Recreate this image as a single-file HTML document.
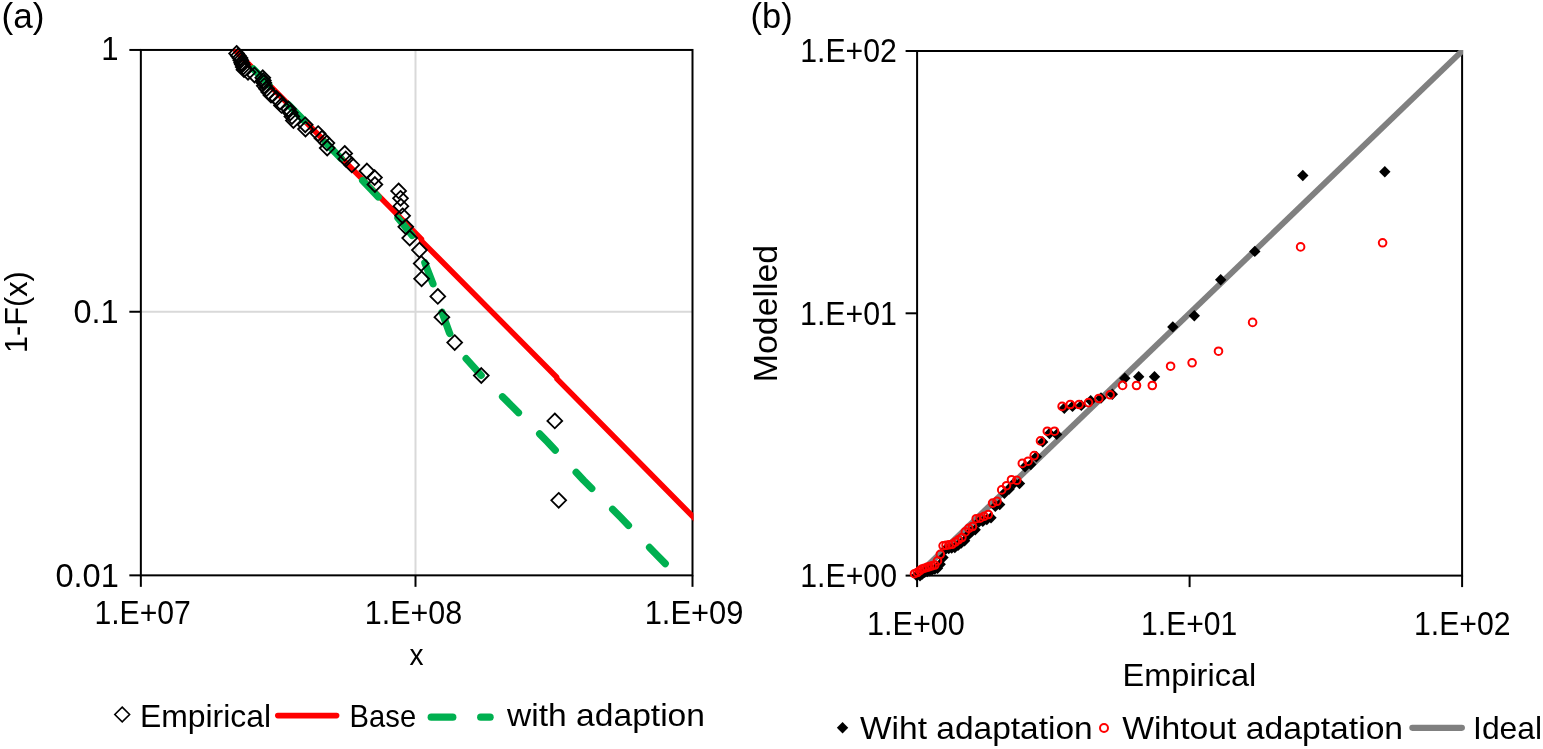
<!DOCTYPE html>
<html lang="en"><head><meta charset="utf-8"><title>Figure</title>
<style>html,body{margin:0;padding:0;background:#fff}body{width:1543px;height:749px;overflow:hidden}svg{display:block}text{font-family:"Liberation Sans",sans-serif;fill:#000}</style>
</head><body>
<svg width="1543" height="749" viewBox="0 0 1543 749">
<rect width="1543" height="749" fill="#fff"/>
<g stroke="#d9d9d9" stroke-width="2" fill="none">
<line x1="415.5" y1="49.95" x2="415.5" y2="575.35"/><line x1="140.85" y1="311.75" x2="692.5" y2="311.75"/></g>
<g stroke="#000" stroke-width="2.0" fill="none" stroke-linecap="butt">
<rect x="140.85" y="49.95" width="551.65" height="525.4"/>
<line x1="129.35" y1="49.95" x2="140.85" y2="49.95"/>
<line x1="129.35" y1="311.75" x2="140.85" y2="311.75"/>
<line x1="129.35" y1="575.35" x2="140.85" y2="575.35"/>
<line x1="140.85" y1="575.35" x2="140.85" y2="586.85"/>
<line x1="415.5" y1="575.35" x2="415.5" y2="586.85"/>
<line x1="692.5" y1="575.35" x2="692.5" y2="586.85"/>
</g>
<clipPath id="ca"><rect x="139.85" y="48.95" width="553.65" height="527.4"/></clipPath>
<g clip-path="url(#ca)">
<polyline points="236.0,51.3 421.5,239.1 421.7,241.1 556.7,377.2 557,378.9 695.5,519.3" fill="none" stroke="#ff0000" stroke-width="5.6" stroke-linejoin="round" stroke-linecap="round"/>
<g fill="none" stroke="#00b050" stroke-width="7.2" stroke-linecap="round" stroke-linejoin="round">
<polyline points="253.1,68.7 269.0,84.9"/>
<polyline points="288.3,104.6 300.0,116.5 304.2,120.7"/>
<polyline points="325.3,142.2 341.1,158.4"/>
<polyline points="362.6,180.5 370.5,188.7 378.3,196.9"/>
<polyline points="397.9,218.0 405.0,226.5 412.2,235.5"/>
<polyline points="424.8,262.8 433.0,283.8"/>
<polyline points="442.0,312.3 449.5,333.0 449.8,333.5"/>
<polyline points="466.1,358.6 481.2,375.4"/>
<polyline points="502.5,396.7 510.5,404.7 518.5,412.7"/>
<polyline points="539.6,433.9 547.6,442.0 555.3,450.2"/>
<polyline points="576.1,472.3 583.8,480.5 591.8,488.5"/>
<polyline points="612.6,509.3 620.6,517.3 628.5,525.5"/>
<polyline points="649.5,547.4 657.3,555.5 665.3,563.6"/>
</g>
</g>
<g fill="none" stroke="#000" stroke-width="1.8" stroke-linejoin="miter">
<path d="M236.6,46.0L244.0,53.4L236.6,60.8L229.2,53.4Z"/>
<path d="M238.3,48.3L245.7,55.7L238.3,63.1L230.9,55.7Z"/>
<path d="M240.0,50.6L247.4,58.0L240.0,65.4L232.6,58.0Z"/>
<path d="M240.8,52.9L248.2,60.3L240.8,67.7L233.4,60.3Z"/>
<path d="M241.6,55.3L249.0,62.7L241.6,70.1L234.2,62.7Z"/>
<path d="M242.4,57.2L249.8,64.6L242.4,72.0L235.0,64.6Z"/>
<path d="M243.2,59.7L250.6,67.1L243.2,74.5L235.8,67.1Z"/>
<path d="M244.0,62.3L251.4,69.7L244.0,77.1L236.6,69.7Z"/>
<path d="M248.0,64.9L255.4,72.3L248.0,79.7L240.6,72.3Z"/>
<path d="M254.5,67.6L261.9,75.0L254.5,82.4L247.1,75.0Z"/>
<path d="M262.8,70.3L270.2,77.7L262.8,85.1L255.4,77.7Z"/>
<path d="M263.3,73.1L270.7,80.5L263.3,87.9L255.9,80.5Z"/>
<path d="M263.8,75.4L271.2,82.8L263.8,90.2L256.4,82.8Z"/>
<path d="M264.3,78.4L271.7,85.8L264.3,93.2L256.9,85.8Z"/>
<path d="M266.5,81.4L273.9,88.8L266.5,96.2L259.1,88.8Z"/>
<path d="M268.7,84.6L276.1,92.0L268.7,99.4L261.3,92.0Z"/>
<path d="M271.0,87.8L278.4,95.2L271.0,102.6L263.6,95.2Z"/>
<path d="M276.5,91.1L283.9,98.5L276.5,105.9L269.1,98.5Z"/>
<path d="M280.0,94.5L287.4,101.9L280.0,109.3L272.6,101.9Z"/>
<path d="M281.5,98.0L288.9,105.4L281.5,112.8L274.1,105.4Z"/>
<path d="M288.5,101.6L295.9,109.0L288.5,116.4L281.1,109.0Z"/>
<path d="M290.3,105.4L297.7,112.8L290.3,120.2L282.9,112.8Z"/>
<path d="M291.9,109.2L299.3,116.6L291.9,124.0L284.5,116.6Z"/>
<path d="M293.4,113.2L300.8,120.6L293.4,128.0L286.0,120.6Z"/>
<path d="M305.2,117.4L312.6,124.8L305.2,132.2L297.8,124.8Z"/>
<path d="M305.5,121.7L312.9,129.1L305.5,136.5L298.1,129.1Z"/>
<path d="M318.1,126.2L325.5,133.6L318.1,141.0L310.7,133.6Z"/>
<path d="M322.0,130.8L329.4,138.2L322.0,145.6L314.6,138.2Z"/>
<path d="M326.9,135.7L334.3,143.1L326.9,150.5L319.5,143.1Z"/>
<path d="M327.2,140.7L334.6,148.1L327.2,155.5L319.8,148.1Z"/>
<path d="M344.7,146.0L352.1,153.4L344.7,160.8L337.3,153.4Z"/>
<path d="M345.8,151.6L353.2,159.0L345.8,166.4L338.4,159.0Z"/>
<path d="M351.8,157.5L359.2,164.9L351.8,172.3L344.4,164.9Z"/>
<path d="M366.9,163.6L374.3,171.0L366.9,178.4L359.5,171.0Z"/>
<path d="M374.5,170.2L381.9,177.6L374.5,185.0L367.1,177.6Z"/>
<path d="M374.9,177.1L382.3,184.5L374.9,191.9L367.5,184.5Z"/>
<path d="M398.6,183.5L406.0,190.9L398.6,198.3L391.2,190.9Z"/>
<path d="M400.5,190.9L407.9,198.3L400.5,205.7L393.1,198.3Z"/>
<path d="M400.9,198.8L408.3,206.2L400.9,213.6L393.5,206.2Z"/>
<path d="M402.6,208.4L410.0,215.8L402.6,223.2L395.2,215.8Z"/>
<path d="M405.8,219.4L413.2,226.8L405.8,234.2L398.4,226.8Z"/>
<path d="M409.7,230.7L417.1,238.1L409.7,245.5L402.3,238.1Z"/>
<path d="M419.4,242.7L426.8,250.1L419.4,257.5L412.0,250.1Z"/>
<path d="M421.2,256.2L428.6,263.6L421.2,271.0L413.8,263.6Z"/>
<path d="M421.6,271.4L429.0,278.8L421.6,286.2L414.2,278.8Z"/>
<path d="M437.8,289.0L445.2,296.4L437.8,303.8L430.4,296.4Z"/>
<path d="M441.9,309.8L449.3,317.2L441.9,324.6L434.5,317.2Z"/>
<path d="M454.7,335.2L462.1,342.6L454.7,350.0L447.3,342.6Z"/>
<path d="M481.3,368.1L488.7,375.5L481.3,382.9L473.9,375.5Z"/>
<path d="M554.8,413.5L562.2,420.9L554.8,428.3L547.4,420.9Z"/>
<path d="M558.7,492.9L566.1,500.3L558.7,507.7L551.3,500.3Z"/>
</g>
<text x="1.52" y="28.40" font-size="35.3" textLength="42.96" lengthAdjust="spacingAndGlyphs">(a)</text>
<text x="101.33" y="60.20" font-size="32.5" textLength="17.28" lengthAdjust="spacingAndGlyphs">1</text>
<text x="73.53" y="322.90" font-size="32.5" textLength="45.15" lengthAdjust="spacingAndGlyphs">0.1</text>
<text x="55.43" y="587.40" font-size="32.5" textLength="63.36" lengthAdjust="spacingAndGlyphs">0.01</text>
<text x="94.40" y="624.10" font-size="32.5" textLength="96.41" lengthAdjust="spacingAndGlyphs">1.E+07</text>
<text x="364.78" y="624.10" font-size="32.5" textLength="97.34" lengthAdjust="spacingAndGlyphs">1.E+08</text>
<text x="644.65" y="624.10" font-size="32.5" textLength="98.71" lengthAdjust="spacingAndGlyphs">1.E+09</text>
<text x="409.49" y="664.80" font-size="29.5" textLength="14.02" lengthAdjust="spacingAndGlyphs">x</text>
<text transform="translate(27.30,353.04) rotate(-90)" font-size="32" textLength="81.84" lengthAdjust="spacingAndGlyphs">1-F(x)</text>
<path d="M122.2,707.1L129.6,714.5L122.2,721.9L114.8,714.5Z" fill="none" stroke="#000" stroke-width="1.6"/>
<text x="139.88" y="727.00" font-size="32" textLength="131.25" lengthAdjust="spacingAndGlyphs">Empirical</text>
<line x1="277.8" y1="715.6" x2="336.6" y2="715.6" stroke="#ff0000" stroke-width="5.6" stroke-linecap="round"/>
<text x="349.61" y="727.00" font-size="32" textLength="66.49" lengthAdjust="spacingAndGlyphs">Base</text>
<g stroke="#00b050" stroke-width="7.2" stroke-linecap="round"><line x1="431.2" y1="717.2" x2="452.8" y2="717.2"/><line x1="480.7" y1="717.2" x2="490.1" y2="717.2"/></g>
<text x="507.05" y="725.90" font-size="32" textLength="197.93" lengthAdjust="spacingAndGlyphs">with adaption</text>
<g stroke="#000" stroke-width="2.0" fill="none">
<rect x="917.1" y="51.0" width="544.9999999999999" height="524.6"/>
<line x1="905.6" y1="51.0" x2="917.1" y2="51.0"/>
<line x1="905.6" y1="313.3" x2="917.1" y2="313.3"/>
<line x1="905.6" y1="575.6" x2="917.1" y2="575.6"/>
<line x1="917.1" y1="575.6" x2="917.1" y2="587.1"/>
<line x1="1189.6" y1="575.6" x2="1189.6" y2="587.1"/>
<line x1="1462.1" y1="575.6" x2="1462.1" y2="587.1"/>
</g>
<clipPath id="cb"><rect x="916.1" y="50.0" width="546.9999999999999" height="526.6"/></clipPath>
<g clip-path="url(#cb)"><line x1="906.2" y1="586.092" x2="1473.0" y2="40.507999999999996" stroke="#808080" stroke-width="5.9"/></g>
<g fill="#000" stroke="none">
<path d="M916.6,569.9L922.3,575.6L916.6,581.3L910.9,575.6Z"/>
<path d="M920.0,570.1L925.7,575.8L920.0,581.5L914.3,575.8Z"/>
<path d="M922.3,568.4L928.0,574.1L922.3,579.8L916.6,574.1Z"/>
<path d="M924.7,566.6L930.4,572.3L924.7,578.0L919.0,572.3Z"/>
<path d="M927.2,565.8L932.9,571.5L927.2,577.2L921.5,571.5Z"/>
<path d="M929.7,565.0L935.4,570.7L929.7,576.4L924.0,570.7Z"/>
<path d="M932.2,564.2L937.9,569.9L932.2,575.6L926.5,569.9Z"/>
<path d="M934.8,563.4L940.5,569.1L934.8,574.8L929.1,569.1Z"/>
<path d="M937.5,562.6L943.2,568.3L937.5,574.0L931.8,568.3Z"/>
<path d="M940.2,558.5L945.9,564.2L940.2,569.9L934.5,564.2Z"/>
<path d="M943.0,551.9L948.7,557.6L943.0,563.3L937.3,557.6Z"/>
<path d="M945.8,543.4L951.5,549.1L945.8,554.8L940.1,549.1Z"/>
<path d="M948.7,542.9L954.4,548.6L948.7,554.3L943.0,548.6Z"/>
<path d="M951.7,542.4L957.4,548.1L951.7,553.8L946.0,548.1Z"/>
<path d="M954.8,541.9L960.5,547.6L954.8,553.3L949.1,547.6Z"/>
<path d="M958.0,539.7L963.7,545.4L958.0,551.1L952.3,545.4Z"/>
<path d="M961.2,537.4L966.9,543.1L961.2,548.8L955.5,543.1Z"/>
<path d="M964.6,535.1L970.3,540.8L964.6,546.5L958.9,540.8Z"/>
<path d="M968.0,529.5L973.7,535.2L968.0,540.9L962.3,535.2Z"/>
<path d="M971.5,526.0L977.2,531.7L971.5,537.4L965.8,531.7Z"/>
<path d="M975.2,524.1L980.9,529.8L975.2,535.5L969.5,529.8Z"/>
<path d="M978.9,516.3L984.6,522.0L978.9,527.7L973.2,522.0Z"/>
<path d="M982.8,515.7L988.5,521.4L982.8,527.1L977.1,521.4Z"/>
<path d="M986.8,513.9L992.5,519.6L986.8,525.3L981.1,519.6Z"/>
<path d="M991.0,512.1L996.7,517.8L991.0,523.5L985.3,517.8Z"/>
<path d="M995.3,500.7L1001.0,506.4L995.3,512.1L989.6,506.4Z"/>
<path d="M999.7,498.9L1005.4,504.6L999.7,510.3L994.0,504.6Z"/>
<path d="M1004.4,487.5L1010.1,493.2L1004.4,498.9L998.7,493.2Z"/>
<path d="M1009.2,483.3L1014.9,489.0L1009.2,494.7L1003.5,489.0Z"/>
<path d="M1014.2,477.3L1019.9,483.0L1014.2,488.7L1008.5,483.0Z"/>
<path d="M1019.5,477.9L1025.2,483.6L1019.5,489.3L1013.8,483.6Z"/>
<path d="M1025.0,461.0L1030.7,466.7L1025.0,472.4L1019.3,466.7Z"/>
<path d="M1030.8,458.8L1036.5,464.5L1030.8,470.2L1025.1,464.5Z"/>
<path d="M1036.4,451.1L1042.1,456.8L1036.4,462.5L1030.7,456.8Z"/>
<path d="M1042.7,436.2L1048.4,441.9L1042.7,447.6L1037.0,441.9Z"/>
<path d="M1049.5,427.8L1055.2,433.5L1049.5,439.2L1043.8,433.5Z"/>
<path d="M1056.7,428.7L1062.4,434.4L1056.7,440.1L1051.0,434.4Z"/>
<path d="M1064.3,402.5L1070.0,408.2L1064.3,413.9L1058.6,408.2Z"/>
<path d="M1072.5,400.7L1078.2,406.4L1072.5,412.1L1066.8,406.4Z"/>
<path d="M1081.3,399.7L1087.0,405.4L1081.3,411.1L1075.6,405.4Z"/>
<path d="M1090.7,395.0L1096.4,400.7L1090.7,406.4L1085.0,400.7Z"/>
<path d="M1101.0,392.3L1106.7,398.0L1101.0,403.7L1095.3,398.0Z"/>
<path d="M1112.3,388.5L1118.0,394.2L1112.3,399.9L1106.6,394.2Z"/>
<path d="M1124.8,372.5L1130.5,378.2L1124.8,383.9L1119.1,378.2Z"/>
<path d="M1138.7,371.0L1144.4,376.7L1138.7,382.4L1133.0,376.7Z"/>
<path d="M1154.5,371.0L1160.2,376.7L1154.5,382.4L1148.8,376.7Z"/>
<path d="M1172.8,321.2L1178.5,326.9L1172.8,332.6L1167.1,326.9Z"/>
<path d="M1194.3,310.0L1200.0,315.7L1194.3,321.4L1188.6,315.7Z"/>
<path d="M1220.7,274.1L1226.4,279.8L1220.7,285.5L1215.0,279.8Z"/>
<path d="M1254.8,245.7L1260.5,251.4L1254.8,257.1L1249.1,251.4Z"/>
<path d="M1302.8,169.8L1308.5,175.5L1302.8,181.2L1297.1,175.5Z"/>
<path d="M1384.8,166.1L1390.5,171.8L1384.8,177.5L1379.1,171.8Z"/>
</g>
<g fill="none" stroke="#ff0000" stroke-width="2.0">
<circle cx="914.5" cy="573.7" r="3.8"/>
<circle cx="917.3" cy="572.5" r="3.8"/>
<circle cx="919.6" cy="570.8" r="3.8"/>
<circle cx="922.0" cy="569.0" r="3.8"/>
<circle cx="924.5" cy="568.2" r="3.8"/>
<circle cx="927.0" cy="567.4" r="3.8"/>
<circle cx="929.5" cy="566.6" r="3.8"/>
<circle cx="932.1" cy="565.8" r="3.8"/>
<circle cx="934.8" cy="565.0" r="3.8"/>
<circle cx="937.5" cy="560.9" r="3.8"/>
<circle cx="940.3" cy="554.3" r="3.8"/>
<circle cx="943.1" cy="545.8" r="3.8"/>
<circle cx="946.0" cy="545.3" r="3.8"/>
<circle cx="949.0" cy="544.8" r="3.8"/>
<circle cx="952.1" cy="544.3" r="3.8"/>
<circle cx="955.3" cy="542.1" r="3.8"/>
<circle cx="958.5" cy="539.8" r="3.8"/>
<circle cx="961.9" cy="537.5" r="3.8"/>
<circle cx="965.3" cy="531.9" r="3.8"/>
<circle cx="968.8" cy="528.4" r="3.8"/>
<circle cx="972.5" cy="526.5" r="3.8"/>
<circle cx="976.2" cy="518.7" r="3.8"/>
<circle cx="980.1" cy="518.1" r="3.8"/>
<circle cx="984.1" cy="516.3" r="3.8"/>
<circle cx="988.3" cy="514.5" r="3.8"/>
<circle cx="992.6" cy="503.1" r="3.8"/>
<circle cx="997.0" cy="501.3" r="3.8"/>
<circle cx="1001.7" cy="489.9" r="3.8"/>
<circle cx="1006.5" cy="485.7" r="3.8"/>
<circle cx="1011.5" cy="479.7" r="3.8"/>
<circle cx="1016.8" cy="480.3" r="3.8"/>
<circle cx="1022.3" cy="463.4" r="3.8"/>
<circle cx="1028.1" cy="461.2" r="3.8"/>
<circle cx="1034.2" cy="455.6" r="3.8"/>
<circle cx="1040.5" cy="440.9" r="3.8"/>
<circle cx="1047.3" cy="431.2" r="3.8"/>
<circle cx="1054.5" cy="431.2" r="3.8"/>
<circle cx="1062.1" cy="406.4" r="3.8"/>
<circle cx="1070.3" cy="404.5" r="3.8"/>
<circle cx="1079.1" cy="404.5" r="3.8"/>
<circle cx="1088.5" cy="402.6" r="3.8"/>
<circle cx="1098.8" cy="398.5" r="3.8"/>
<circle cx="1110.1" cy="394.8" r="3.8"/>
<circle cx="1122.6" cy="385.4" r="3.8"/>
<circle cx="1136.5" cy="385.5" r="3.8"/>
<circle cx="1152.3" cy="385.5" r="3.8"/>
<circle cx="1170.6" cy="366.2" r="3.8"/>
<circle cx="1192.1" cy="362.8" r="3.8"/>
<circle cx="1218.5" cy="351.2" r="3.8"/>
<circle cx="1252.6" cy="322.4" r="3.8"/>
<circle cx="1300.6" cy="246.9" r="3.8"/>
<circle cx="1382.6" cy="242.8" r="3.8"/>
</g>
<text x="750.57" y="28.40" font-size="35.3" textLength="42.07" lengthAdjust="spacingAndGlyphs">(b)</text>
<text x="800.20" y="61.80" font-size="32.5" textLength="96.62" lengthAdjust="spacingAndGlyphs">1.E+02</text>
<text x="800.09" y="324.60" font-size="32.5" textLength="96.89" lengthAdjust="spacingAndGlyphs">1.E+01</text>
<text x="800.30" y="587.40" font-size="32.5" textLength="96.68" lengthAdjust="spacingAndGlyphs">1.E+00</text>
<text x="867.07" y="634.80" font-size="32.5" textLength="97.83" lengthAdjust="spacingAndGlyphs">1.E+00</text>
<text x="1141.11" y="634.80" font-size="32.5" textLength="96.26" lengthAdjust="spacingAndGlyphs">1.E+01</text>
<text x="1414.00" y="634.80" font-size="32.5" textLength="96.62" lengthAdjust="spacingAndGlyphs">1.E+02</text>
<text x="1122.64" y="685.80" font-size="32" textLength="133.54" lengthAdjust="spacingAndGlyphs">Empirical</text>
<text transform="translate(776.80,382.18) rotate(-90)" font-size="33" textLength="137.36" lengthAdjust="spacingAndGlyphs">Modelled</text>
<path d="M842.55,722.0999999999999L848.25,727.8L842.55,733.5L836.8499999999999,727.8Z" fill="#000"/>
<text x="859.95" y="738.80" font-size="32" textLength="232.82" lengthAdjust="spacingAndGlyphs">Wiht adaptation</text>
<circle cx="1104" cy="728" r="4.0" fill="none" stroke="#ff0000" stroke-width="2.0"/>
<text x="1122.25" y="738.80" font-size="32" textLength="280.84" lengthAdjust="spacingAndGlyphs">Wihtout adaptation</text>
<line x1="1412.3" y1="727.85" x2="1461.9" y2="727.85" stroke="#808080" stroke-width="6.1" stroke-linecap="round"/>
<text x="1473.06" y="738.80" font-size="32" textLength="69.07" lengthAdjust="spacingAndGlyphs">Ideal</text>
</svg></body></html>
